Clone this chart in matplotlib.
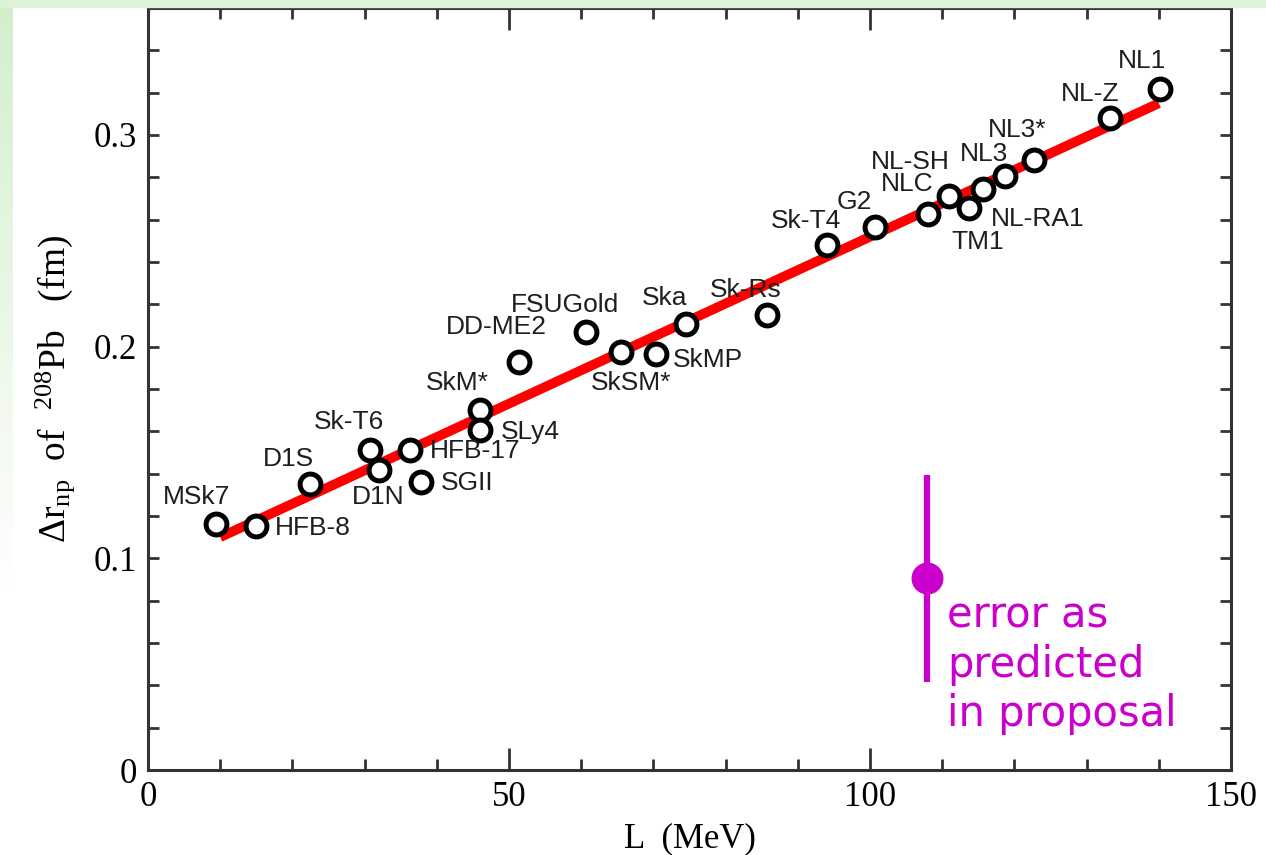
import numpy as np
import matplotlib
matplotlib.use("Agg")
import matplotlib.pyplot as plt
from matplotlib.ticker import MultipleLocator, FuncFormatter
from matplotlib.patches import Rectangle

# model names, slope parameter L (MeV) and neutron skin of 208Pb (fm)
models = ["MSk7", "HFB-8", "D1S", "Sk-T6", "D1N", "HFB-17", "SGII", "SkM*", "SLy4",
          "DD-ME2", "FSUGold", "SkSM*", "SkMP", "Ska", "Sk-Rs", "Sk-T4", "G2", "NLC",
          "NL-SH", "TM1", "NL-RA1", "NL3", "NL3*", "NL-Z", "NL1"]
L_vals = [9.4, 14.9, 22.5, 30.8, 32.0, 36.3, 37.8, 46.0, 46.0,
          51.4, 60.6, 65.5, 70.3, 74.5, 85.7, 94.1, 100.7, 108.0,
          110.9, 113.7, 115.6, 118.7, 122.7, 133.3, 140.1]
drnp_vals = [0.1160, 0.1155, 0.1350, 0.1510, 0.1418, 0.1510, 0.1362, 0.1702, 0.1608,
             0.1929, 0.2068, 0.1974, 0.1967, 0.2109, 0.2151, 0.2478, 0.2567, 0.2628,
             0.2713, 0.2654, 0.2747, 0.2806, 0.2884, 0.3078, 0.3215]

# linear fit drawn through the models
fit_L = [10.0, 140.0]
fit_drnp = [0.1100, 0.3150]

# proposed measurement (point and error)
err_L = [107.9]
err_drnp = [0.0905]
err_size = [0.049]

# label offsets in pixels (dx, dy) and alignment
label_pos = {
    "MSk7": (-19, 27, "center"), "HFB-8": (19, -2, "left"), "D1S": (-22, 25, "center"),
    "Sk-T6": (-21, 28, "center"), "D1N": (-1, -27, "center"), "HFB-17": (20, -1, "left"),
    "SGII": (20, -1, "left"), "SkM*": (-23, 27, "center"), "SLy4": (21, -2, "left"),
    "DD-ME2": (-23, 35, "center"), "FSUGold": (-21, 27, "center"), "SkSM*": (10, -31, "center"),
    "SkMP": (17, -6, "left"), "Ska": (-21, 26, "center"), "Sk-Rs": (-21, 25, "center"),
    "Sk-T4": (-21, 24, "center"), "G2": (-21, 25, "center"), "NLC": (-21, 30, "center"),
    "NL-SH": (-38, 34, "center"), "TM1": (9, -34, "center"), "NL-RA1": (8, -30, "left"),
    "NL3": (-21, 22, "center"), "NL3*": (-17, 30, "center"), "NL-Z": (-20, 24, "center"),
    "NL1": (-18, 28, "center"),
}

plt.rcParams["mathtext.fontset"] = "custom"
plt.rcParams["mathtext.rm"] = "Liberation Serif"
plt.rcParams["mathtext.it"] = "Liberation Serif:italic"

fig = plt.figure(figsize=(12.66, 8.55), dpi=100)
fig.patch.set_facecolor("white")

# light green slide background remnants
fig.patches.append(Rectangle((0, 1 - 7 / 855), 1, 7 / 855, transform=fig.transFigure,
                             color="#dcf3d8", zorder=0))
bg = fig.add_axes([0, 0.3, 12 / 1266, 0.7])
grad = np.linspace(0, 1, 100).reshape(-1, 1)
bg.imshow(grad, aspect="auto", cmap=matplotlib.colors.LinearSegmentedColormap.from_list(
    "g", ["#d3eecd", "white"]), extent=[0, 1, 0, 1])
bg.axis("off")

ax = fig.add_axes([148 / 1266, 85 / 855, 1083 / 1266, 762 / 855])

ax.plot(fit_L, fit_drnp, color="red", lw=7, solid_capstyle="butt", zorder=2)
ax.plot(L_vals, drnp_vals, "o", ms=15, mfc="white", mec="black", mew=3.6, zorder=3)

for name, x, y in zip(models, L_vals, drnp_vals):
    dx, dy, ha = label_pos[name]
    ax.annotate(name, (x, y), xytext=(dx, dy), textcoords="offset pixels",
                ha=ha, va="center", fontsize=19, family="Liberation Sans",
                color="#1e1e1e", zorder=4)

magenta = "#cc00cc"
ax.errorbar(err_L, err_drnp, yerr=err_size, fmt="o", color=magenta, ms=22,
            elinewidth=4.5, capsize=0, zorder=5)
ax.annotate("error as\npredicted\nin proposal", (err_L[0], err_drnp[0]), xytext=(20, -16),
            textcoords="offset pixels", ha="left", va="top", fontsize=30,
            family="DejaVu Sans", color=magenta, linespacing=1.22)

ax.set_xlim(0, 150)
ax.set_ylim(0, 0.36)
ax.xaxis.set_major_locator(MultipleLocator(50))
ax.xaxis.set_minor_locator(MultipleLocator(10))
ax.yaxis.set_major_locator(MultipleLocator(0.1))
ax.yaxis.set_minor_locator(MultipleLocator(0.02))
ax.yaxis.set_major_formatter(FuncFormatter(lambda v, p: "0" if abs(v) < 1e-9 else f"{v:.1f}"))

ax.tick_params(which="both", direction="in", top=True, right=True, color="#333333",
               width=2, labelsize=25, pad=8)
ax.tick_params(axis="x", which="major", length=16)
ax.tick_params(axis="x", which="minor", length=8)
ax.tick_params(axis="y", which="both", length=8)
for lab in ax.get_xticklabels() + ax.get_yticklabels():
    lab.set_family("Liberation Serif")
for sp in ax.spines.values():
    sp.set_linewidth(2.2)
    sp.set_color("#333333")

ax.set_xlabel("L  (MeV)", fontsize=25, family="Liberation Serif", labelpad=6)
ax.set_ylabel("Δr$_{\\rm np}$  of  $^{208}$Pb   (fm)", fontsize=27,
              family="Liberation Serif", labelpad=12)

fig.savefig("out.png", dpi=100)
